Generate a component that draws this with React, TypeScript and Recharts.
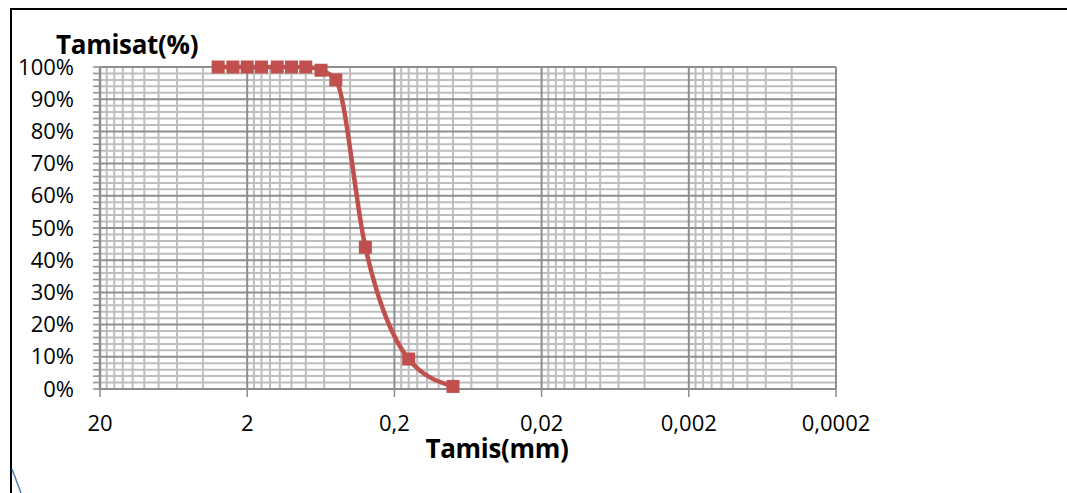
import { LineChart, Line, XAxis, YAxis, ReferenceLine } from "recharts";

// sieve size (mm) and passing percentage
const sizes = [3.15, 2.5, 2, 1.6, 1.25, 1, 0.8, 0.63, 0.5, 0.315, 0.16, 0.08];
const passing = [100, 100, 100, 100, 100, 100, 100, 99, 96, 44, 9.3, 0.8];

const xTicks = [20, 2, 0.2, 0.02, 0.002, 0.0002];
const yTicks = [0, 10, 20, 30, 40, 50, 60, 70, 80, 90, 100];

const data = sizes.map((s, i) => ({ size: s, pass: passing[i] }));

const decadeBases = [0.0002, 0.002, 0.02, 0.2, 2];
const xMinor: number[] = [];
decadeBases.forEach((b) => {
  for (let k = 2; k <= 9; k++) xMinor.push(b * k);
});
const yMinor: number[] = [];
for (let v = 0; v <= 100; v += 2) if (v % 10 !== 0) yMinor.push(v);
const yAllTicks: number[] = [];
for (let v = 0; v <= 100; v += 2) yAllTicks.push(v);

const RED = "#c0504d";
const MINOR = "#bebebe";
const MAJOR = "#8e8e8e";
const FONT = "'Open Sans', sans-serif";

const fmtX = (v: number) => String(v).replace(".", ",");

const XTick = (props: any) => {
  const { x, payload } = props;
  return (
    <text x={x} y={431} textAnchor="middle" fontSize={22} fontFamily={FONT} fill="#000">
      {fmtX(payload.value)}
    </text>
  );
};

const YTick = (props: any) => {
  const { y, payload } = props;
  if (payload.value % 10 !== 0) return <g />;
  return (
    <text x={74} y={y + 7.5} textAnchor="end" fontSize={22} fontFamily={FONT} fill="#000">
      {payload.value}%
    </text>
  );
};

const SquareDot = (props: any) => {
  const { cx, cy, index } = props;
  if (cx == null || cy == null) return <g key={index} />;
  return <rect key={index} x={cx - 6.5} y={cy - 6.5} width={13} height={13} fill={RED} />;
};

export default function App() {
  return (
    <div style={{ position: "absolute", left: 0, top: 0, width: 1067, height: 493, background: "#fff", overflow: "hidden" }}>
      <LineChart
        width={1067}
        height={493}
        data={data}
        margin={{ top: 67, right: 231, left: 0, bottom: 0 }}
      >
        <XAxis
          dataKey="size"
          type="number"
          scale="log"
          domain={[0.0002, 20]}
          reversed
          ticks={xTicks}
          interval={0}
          allowDataOverflow
          height={104}
          tick={<XTick />}
          tickSize={8}
          tickLine={{ stroke: MAJOR, strokeWidth: 1.5 }}
          axisLine={{ stroke: MAJOR, strokeWidth: 2 }}
        />
        <YAxis
          type="number"
          domain={[0, 100]}
          ticks={yAllTicks}
          interval={0}
          width={100}
          tick={<YTick />}
          tickSize={7}
          tickLine={{ stroke: MAJOR, strokeWidth: 1.5 }}
          axisLine={{ stroke: MAJOR, strokeWidth: 2.5 }}
        />
        {yMinor.map((v) => (
          <ReferenceLine key={`ym${v}`} y={v} stroke={MINOR} strokeWidth={2} />
        ))}
        {xMinor.map((v, i) => (
          <ReferenceLine key={`xm${i}`} x={v} stroke={MINOR} strokeWidth={2} />
        ))}
        {yTicks.map((v) => (
          <ReferenceLine key={`yM${v}`} y={v} stroke={MAJOR} strokeWidth={2} />
        ))}
        {xTicks.map((v) => (
          <ReferenceLine key={`xM${v}`} x={v} stroke={MAJOR} strokeWidth={2} />
        ))}
        <Line
          dataKey="pass"
          type="monotone"
          stroke={RED}
          strokeWidth={4.5}
          dot={<SquareDot />}
          activeDot={false}
          isAnimationActive={false}
        />
      </LineChart>
      <div
        style={{
          position: "absolute",
          left: 56,
          top: 31,
          fontFamily: FONT,
          fontWeight: 700,
          fontSize: 26,
          lineHeight: "26px",
          letterSpacing: "-0.3px",
          color: "#000",
          whiteSpace: "nowrap",
        }}
      >
        Tamisat(%)
      </div>
      <div
        style={{
          position: "absolute",
          left: 497,
          top: 435,
          transform: "translateX(-50%)",
          fontFamily: FONT,
          fontWeight: 700,
          fontSize: 26,
          lineHeight: "26px",
          letterSpacing: "-0.3px",
          color: "#000",
          whiteSpace: "nowrap",
        }}
      >
        Tamis(mm)
      </div>
      <div style={{ position: "absolute", left: 10, top: 8, width: 1057, height: 485, borderTop: "2px solid #000", borderLeft: "2px solid #000" }} />
      <svg style={{ position: "absolute", left: 0, top: 0 }} width={40} height={493}>
        <line x1={12} y1={469} x2={21} y2={493} stroke="#4f81bd" strokeWidth={1.5} />
      </svg>
    </div>
  );
}
